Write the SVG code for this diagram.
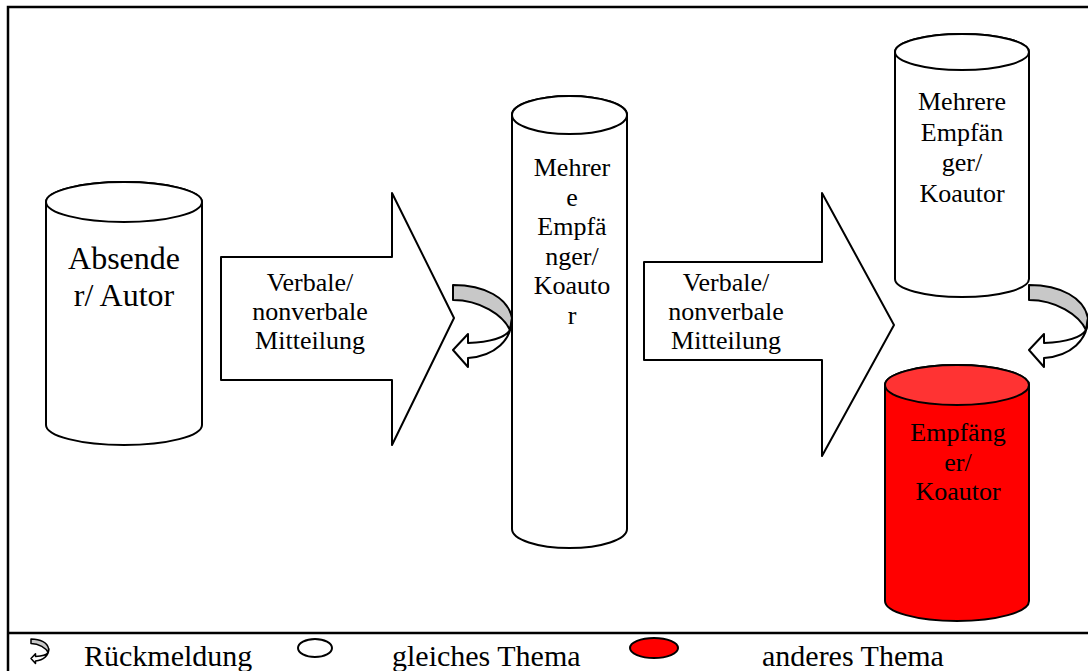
<svg xmlns="http://www.w3.org/2000/svg" width="1088" height="671" viewBox="0 0 1088 671">
  <style>
    .ln { stroke: #000; stroke-width: 2; stroke-linejoin: round; }
    .wf { fill: #fff; }
    .rf { fill: #ff0000; }
    .rt { fill: #ff3333; }
    .gf { fill: #c8c8c8; }
    .tx { font-family: "Liberation Serif", "Times New Roman", Times, "DejaVu Serif", serif; fill: #000; text-anchor: middle; }
    .big { font-size: 32px; }
    .mid { font-size: 26px; }
    .leg { font-size: 30px; text-anchor: start; }
    .thin { vector-effect: non-scaling-stroke; stroke-width: 1.5; }
  </style>
  <defs>
    <!-- U-turn feedback arrow, local origin at top-left of the band -->
    <g id="fb">
      <path class="ln gf" d="M0,0 C32,0 55,13 59,33 C59,37 58,41 57,45 C50,30 27,15 0,15 Z"/>
      <path class="ln wf" d="M59,33 C59,55 42,71 15,73 L15,82 L0,65 L15,49 L15,58 C37,57 52,53 57,45 Z"/>
    </g>
    <g id="fb-small">
      <path class="ln gf thin" d="M0,0 C32,0 55,13 59,33 C59,37 58,41 57,45 C50,30 27,15 0,15 Z"/>
      <path class="ln wf thin" d="M59,33 C59,55 42,71 15,73 L15,82 L0,65 L15,49 L15,58 C37,57 52,53 57,45 Z"/>
    </g>
  </defs>

  <rect x="0" y="0" width="1088" height="671" fill="#fff"/>
  <!-- frame and legend divider -->
  <rect x="8" y="7" width="1090" height="680" fill="none" stroke="#000" stroke-width="2.5"/>
  <line x1="8" y1="633" x2="1088" y2="633" stroke="#000" stroke-width="2.5"/>

  <g id="absender" class="tx">
    <path class="ln wf" d="M46,202 L46,425 A78,20 0 0 0 202,425 L202,202 A78,20 0 0 0 46,202 Z"/>
    <ellipse class="ln wf" cx="124" cy="202" rx="78" ry="20"/>
    <text class="big" x="124" y="269">Absende</text>
    <text class="big" x="124" y="306">r/ Autor</text>
  </g>

  <g id="mehrere-empfaenger-mitte" class="tx">
    <path class="ln wf" d="M512,115 L512,529 A57.5,19 0 0 0 627,529 L627,115 A57.5,19 0 0 0 512,115 Z"/>
    <ellipse class="ln wf" cx="569.5" cy="115" rx="57.5" ry="19"/>
    <text class="mid" x="572" y="176">Mehrer</text>
    <text class="mid" x="572" y="205.5">e</text>
    <text class="mid" x="572" y="235">Empfä</text>
    <text class="mid" x="572" y="264.5">nger/</text>
    <text class="mid" x="572" y="294">Koauto</text>
    <text class="mid" x="572" y="323.5">r</text>
  </g>

  <g id="mehrere-empfaenger-rechts" class="tx">
    <path class="ln wf" d="M895,52 L895,279 A67,18 0 0 0 1029,279 L1029,52 A67,18 0 0 0 895,52 Z"/>
    <ellipse class="ln wf" cx="962" cy="52" rx="67" ry="18"/>
    <text class="mid" x="962" y="110">Mehrere</text>
    <text class="mid" x="962" y="140.5">Empfän</text>
    <text class="mid" x="962" y="171">ger/</text>
    <text class="mid" x="962" y="201.5">Koautor</text>
  </g>

  <g id="empfaenger-rot" class="tx">
    <path class="ln rf" d="M885,385 L885,601 A72,20 0 0 0 1029,601 L1029,385 A72,20 0 0 0 885,385 Z"/>
    <ellipse class="ln rt" cx="957" cy="385" rx="72" ry="20"/>
    <text class="mid" x="958" y="441">Empfäng</text>
    <text class="mid" x="958" y="470.5">er/</text>
    <text class="mid" x="958" y="500">Koautor</text>
  </g>

  <g id="connectors" class="tx">
    <g id="mitteilung-1">
      <polygon class="ln wf" points="221,257 392,257 392,193 454,318 392,445 392,380 221,380"/>
      <text class="mid" x="310" y="291">Verbale/</text>
      <text class="mid" x="310" y="320">nonverbale</text>
      <text class="mid" x="310" y="349">Mitteilung</text>
    </g>
    <g id="mitteilung-2">
      <polygon class="ln wf" points="644,262 822,262 822,193 894,325 822,456 822,360 644,360"/>
      <text class="mid" x="726" y="291">Verbale/</text>
      <text class="mid" x="726" y="320">nonverbale</text>
      <text class="mid" x="726" y="349">Mitteilung</text>
    </g>
    <use href="#fb" x="453" y="285"/>
    <use href="#fb" x="1029" y="285"/>
  </g>

  <g id="legende" class="tx">
    <use href="#fb-small" transform="translate(31,639) scale(0.3)"/>
    <text class="leg" x="84" y="666">Rückmeldung</text>
    <ellipse class="ln wf" cx="315" cy="648" rx="17" ry="9"/>
    <text class="leg" x="392" y="666">gleiches Thema</text>
    <ellipse class="ln rf" cx="654" cy="648" rx="24" ry="10"/>
    <text class="leg" x="762" y="666">anderes Thema</text>
  </g>
</svg>
